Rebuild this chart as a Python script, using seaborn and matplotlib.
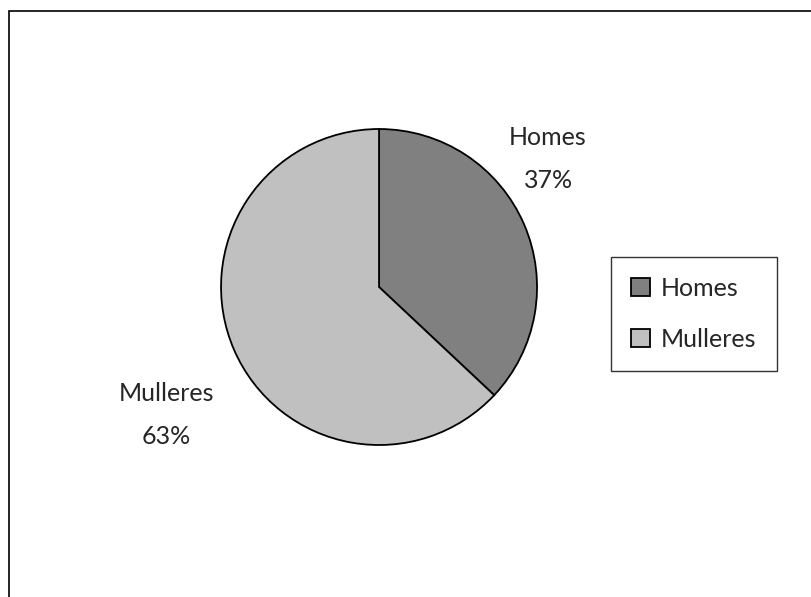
import matplotlib
matplotlib.use("Agg")
import matplotlib.pyplot as plt
import seaborn as sns
from matplotlib.patches import Rectangle

# data
categories = ["Homes", "Mulleres"]
shares = [37, 63]
colours = ["#808080", "#c0c0c0"]

sns.set_theme(style="white")
plt.rcParams['font.family'] = ['Lato', 'DejaVu Sans']

fig = plt.figure(figsize=(8.12, 5.97), dpi=100)

# outer frame (runs off the right and bottom edges as in the original)
fig.patches.append(Rectangle((9 / 812, -0.1), 1.1, 1 - 11 / 597 + 0.1,
                             transform=fig.transFigure, fill=False,
                             edgecolor="black", linewidth=1.2))

ax = fig.add_axes([0.2722, 0.2546, 0.3892, 0.5293])
wedges, _ = ax.pie(shares, colors=colours, startangle=90, counterclock=False,
                   wedgeprops=dict(edgecolor="black", linewidth=1.3))
ax.set_xlim(-1, 1)
ax.set_ylim(-1, 1)
ax.set_aspect("equal")

label_pos = [(1.07, 0.81), (-1.348, -0.81)]
for name, val, (x, y) in zip(categories, shares, label_pos):
    ax.text(x, y, f"{name}\n{val}%", ha="center", va="center",
            fontsize=18, linespacing=2.1, clip_on=False)

leg = fig.legend(wedges, categories, loc="upper left",
                 bbox_to_anchor=(611 / 812, 1 - 257 / 597),
                 fontsize=18, frameon=True, fancybox=False,
                 handlelength=0.75, handleheight=0.75, handletextpad=0.45,
                 labelspacing=1.1, borderpad=0.8, borderaxespad=0)
leg.get_frame().set_edgecolor("black")
leg.get_frame().set_linewidth(1.0)

fig.savefig("out.png", dpi=100)
